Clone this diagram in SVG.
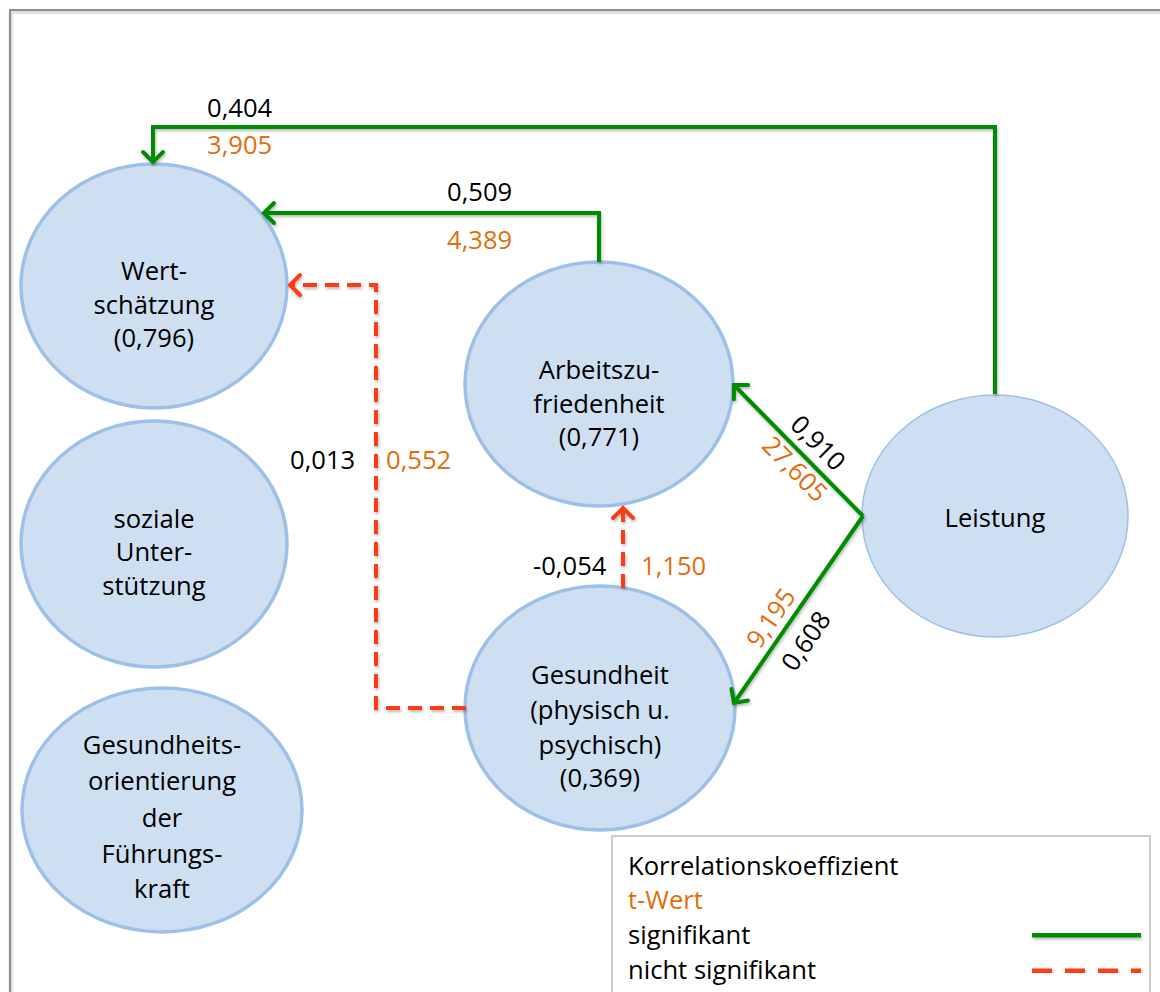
<svg xmlns="http://www.w3.org/2000/svg" width="1160" height="992" viewBox="0 0 1160 992">
  <defs>
    <style>
      text { font-family: "Open Sans", "Liberation Sans", sans-serif; font-size: 25.6px; fill: #000; }
      .t { fill: #e46c0a; }
      .node ellipse { fill: #cfdff2; stroke: #9cc0e8; stroke-width: 3.5; }
      .node text { text-anchor: middle; }
      .sig { fill: none; stroke: #008c00; stroke-width: 4; }
      .ns { fill: none; stroke: #ff3b14; stroke-width: 4; stroke-dasharray: 14 8; }
    </style>
    <filter id="shadow" x="-5%" y="-5%" width="110%" height="110%">
      <feDropShadow dx="1" dy="2" stdDeviation="1.5" flood-color="#000" flood-opacity="0.28"/>
    </filter>
    <marker id="arrowG" viewBox="-14 -13 18 26" markerWidth="18" markerHeight="26" refX="0" refY="0" orient="auto" markerUnits="userSpaceOnUse">
      <path d="M-10,-10 L0,0 L-10,10" fill="none" stroke="#008c00" stroke-width="4" stroke-linecap="round"/>
    </marker>
    <marker id="arrowR" viewBox="-14 -13 18 26" markerWidth="18" markerHeight="26" refX="0" refY="0" orient="auto" markerUnits="userSpaceOnUse">
      <path d="M-10,-10 L0,0 L-10,10" fill="none" stroke="#ff3b14" stroke-width="4" stroke-linecap="round"/>
    </marker>
  </defs>

  <rect width="1160" height="992" fill="#fff"/>
  <!-- outer frame -->
  <rect x="10" y="10" width="1200" height="1100" fill="none" stroke="#8e8e8e" stroke-width="2" filter="url(#shadow)"/>

  <!-- nodes -->
  <g id="wertschaetzung" class="node">
    <ellipse cx="154" cy="286" rx="133" ry="122"/>
    <text x="154" y="280">Wert-</text>
    <text x="154" y="314">schätzung</text>
    <text x="154" y="347">(0,796)</text>
  </g>
  <g id="soziale-unterstuetzung" class="node">
    <ellipse cx="154" cy="544" rx="133" ry="123"/>
    <text x="154" y="528">soziale</text>
    <text x="154" y="561">Unter-</text>
    <text x="154" y="595">stützung</text>
  </g>
  <g id="gesundheitsorientierung" class="node">
    <ellipse cx="162" cy="810" rx="140" ry="122"/>
    <text x="162" y="754">Gesundheits-</text>
    <text x="162" y="790">orientierung</text>
    <text x="162" y="827">der</text>
    <text x="162" y="863">Führungs-</text>
    <text x="162" y="898">kraft</text>
  </g>
  <g id="arbeitszufriedenheit" class="node">
    <ellipse cx="599" cy="384" rx="134" ry="122"/>
    <text x="599" y="379">Arbeitszu-</text>
    <text x="599" y="413">friedenheit</text>
    <text x="599" y="446">(0,771)</text>
  </g>
  <g id="gesundheit" class="node">
    <ellipse cx="600" cy="708" rx="135" ry="122"/>
    <text x="600" y="684">Gesundheit</text>
    <text x="600" y="719">(physisch u.</text>
    <text x="600" y="754">psychisch)</text>
    <text x="600" y="787">(0,369)</text>
  </g>
  <g id="leistung" class="node">
    <ellipse cx="995" cy="516" rx="133" ry="121" style="stroke-width:1.5"/>
    <text x="995" y="527">Leistung</text>
  </g>

  <!-- connectors -->
  <g id="connectors" filter="url(#shadow)">
    <path class="sig" d="M995,394 V127 H153 V162" marker-end="url(#arrowG)"/>
    <path class="sig" d="M599,262 V213 H264" marker-end="url(#arrowG)"/>
    <path class="ns" d="M466,708 H376 V285 H290" marker-end="url(#arrowR)"/>
    <path class="ns" d="M623,588 V508" marker-end="url(#arrowR)"/>
    <path class="sig" d="M863,516 L734,385" marker-end="url(#arrowG)"/>
    <path class="sig" d="M863,516 L734,703" marker-end="url(#arrowG)"/>
  </g>

  <!-- connector labels -->
  <g id="labels">
    <text x="207" y="117">0,404</text>
    <text class="t" x="207" y="154">3,905</text>
    <text x="447" y="201">0,509</text>
    <text class="t" x="447" y="249">4,389</text>
    <text x="290" y="469">0,013</text>
    <text class="t" x="386" y="469">0,552</text>
    <text x="533" y="575">-0,054</text>
    <text class="t" x="641" y="575">1,150</text>
    <text text-anchor="middle" transform="translate(818,443) rotate(45.4)" dy="9">0,910</text>
    <text class="t" text-anchor="middle" transform="translate(795,469) rotate(45.4)" dy="9">27,605</text>
    <text class="t" text-anchor="middle" transform="translate(771,618) rotate(-55.3)" dy="9">9,195</text>
    <text text-anchor="middle" transform="translate(806,641) rotate(-55.3)" dy="9">0,608</text>
  </g>

  <!-- legend -->
  <g id="legend">
    <rect x="612" y="836" width="538" height="200" fill="#fff" stroke="#bdbdbd" stroke-width="1.5"/>
    <text x="628" y="875">Korrelationskoeffizient</text>
    <text class="t" x="628" y="909">t-Wert</text>
    <text x="628" y="944">signifikant</text>
    <text x="628" y="979">nicht signifikant</text>
    <g filter="url(#shadow)">
      <line x1="1032" y1="935" x2="1141" y2="935" stroke="#008c00" stroke-width="5"/>
      <line x1="1032" y1="971" x2="1141" y2="971" stroke="#ff3b14" stroke-width="5" stroke-dasharray="20 13"/>
    </g>
  </g>
</svg>
